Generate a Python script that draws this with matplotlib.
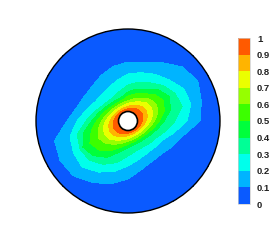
import numpy as np
import matplotlib
matplotlib.use("Agg")
import matplotlib.pyplot as plt
from matplotlib.colors import ListedColormap, BoundaryNorm
from matplotlib.cm import ScalarMappable
from matplotlib.patches import Circle
from matplotlib.ticker import FormatStrFormatter

# contour levels and the fill colour of each band (0-0.1 ... 0.9-1)
levels = np.round(np.arange(11) * 0.1, 1)
band_colors = ['#0A5AFF', '#00B4FF', '#00FFEB', '#00FF96', '#00FF3C',
               '#3CFF00', '#96FF00', '#EBFF00', '#FFB400', '#FF5A00']

# directions around the hole (deg, counter-clockwise from east)
angles_deg = list(range(0, 360, 15))

# disk geometry (px)
r_outer = 92.0
r_hole = 9.5

# radius (px) where the field crosses each level, one value per direction
r_09 = [14.4, 15.5, 16.0, 15.5, 14.4, 13.2, 12.3, 11.7, 11.5, 11.7, 12.3, 13.2,
        14.4, 15.5, 16.0, 15.5, 14.4, 13.2, 12.3, 11.7, 11.5, 11.7, 12.3, 13.2]
r_08 = [18.0, 20.1, 21.0, 20.1, 18.0, 16.1, 14.6, 13.8, 13.5, 13.8, 14.6, 16.1,
        18.0, 20.1, 21.0, 20.1, 18.0, 16.1, 14.6, 13.8, 13.5, 13.8, 14.6, 16.1]
r_07 = [22.3, 25.5, 27.0, 25.5, 22.3, 19.5, 17.5, 16.4, 16.0, 16.4, 17.5, 19.5,
        22.3, 25.5, 27.0, 25.5, 22.3, 19.5, 17.5, 16.4, 16.0, 16.4, 17.5, 19.5]
r_06 = [26.5, 30.8, 33.0, 30.8, 26.5, 22.8, 20.3, 18.9, 18.5, 18.9, 20.3, 22.8,
        26.5, 30.8, 34.0, 31.5, 27.0, 22.8, 20.3, 18.9, 18.5, 18.9, 20.3, 22.8]
r_05 = [31.4, 37.6, 41.0, 37.6, 31.4, 28.0, 25.0, 21.5, 21.0, 21.5, 23.3, 26.4,
        31.4, 38.0, 44.0, 41.0, 34.0, 27.0, 23.3, 21.5, 21.0, 21.5, 23.3, 26.4]
r_04 = [36.3, 43.8, 48.0, 43.8, 36.3, 33.0, 29.0, 24.6, 24.0, 24.6, 26.6, 30.4,
        36.3, 46.0, 52.0, 49.0, 42.0, 32.0, 26.6, 24.6, 24.0, 24.6, 26.6, 30.4]
r_03 = [47.0, 56.0, 54.5, 50.0, 44.0, 40.0, 36.0, 31.0, 28.0, 28.0, 30.0, 35.0,
        42.0, 52.5, 55.5, 55.0, 50.0, 43.0, 35.0, 31.0, 30.0, 31.0, 33.0, 39.0]
r_02 = [59.0, 65.0, 64.5, 58.0, 54.0, 50.0, 47.0, 42.0, 38.5, 37.0, 38.0, 43.0,
        51.0, 60.0, 63.0, 65.0, 59.0, 52.0, 45.0, 40.0, 37.5, 37.5, 39.0, 47.0]
r_01 = [72.0, 76.0, 80.5, 76.5, 67.5, 61.0, 59.0, 56.5, 53.0, 50.0, 50.0, 53.0,
        61.0, 76.0, 78.5, 77.4, 71.0, 65.0, 58.0, 50.5, 47.0, 47.0, 51.0, 57.0]

# radial nodes: hole edge (1.0), level crossings, outer edge (0.0)
n = len(angles_deg)
rr = np.vstack([np.full(n, r_hole), r_09, r_08, r_07, r_06, r_05, r_04,
                r_03, r_02, r_01, np.full(n, r_outer)]) / r_outer
zz = np.repeat(levels[::-1][:, None], n, axis=1)

# close the ring
th = np.deg2rad(angles_deg + [360])
rr = np.hstack([rr, rr[:, :1]])
zz = np.hstack([zz, zz[:, :1]])
X = rr * np.cos(th)
Y = rr * np.sin(th)

fig = plt.figure(figsize=(2.71, 2.41), dpi=100)
ax = fig.add_axes([36 / 271, 1 - 213 / 241, 184 / 271, 184 / 241])
ax.contourf(X, Y, zz, levels=levels, colors=band_colors)
ax.add_patch(Circle((0, 0), 1.0, facecolor='none', edgecolor='black',
                    lw=1.0, clip_on=False, zorder=3))
ax.add_patch(Circle((0, 0), r_hole / r_outer, facecolor='white',
                    edgecolor='black', lw=1.2, zorder=3))
ax.set_xlim(-1, 1)
ax.set_ylim(-1, 1)
ax.set_aspect('equal')
ax.axis('off')

# colour bar
cax = fig.add_axes([238 / 271, 1 - 204 / 241, 12 / 271, 166 / 241])
sm = ScalarMappable(norm=BoundaryNorm(levels, len(band_colors)),
                    cmap=ListedColormap(band_colors))
cb = fig.colorbar(sm, cax=cax, ticks=levels)
cb.ax.yaxis.set_major_formatter(FormatStrFormatter('%g'))
cb.ax.tick_params(length=0, pad=5, labelsize=6.8, labelcolor='#222222')
for t in cb.ax.get_yticklabels():
    t.set_fontweight('bold')
    t.set_family('Liberation Sans')
cb.outline.set_edgecolor('#cccccc')
cb.outline.set_linewidth(0.5)

fig.savefig('out.png', dpi=100)
